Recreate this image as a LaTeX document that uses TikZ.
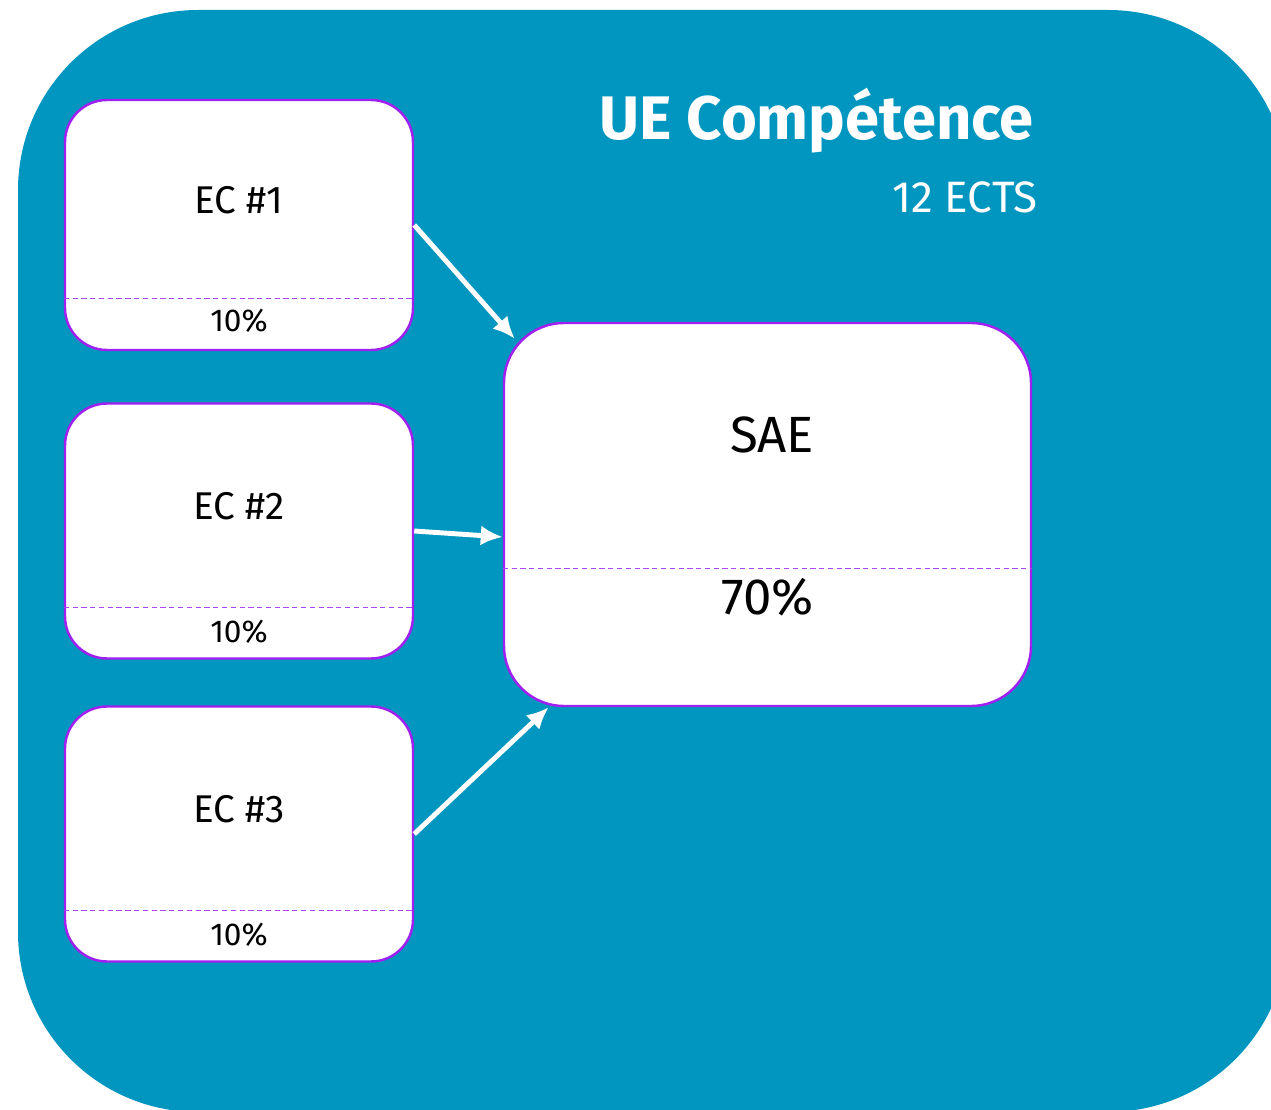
\documentclass[tikz,border=0pt]{standalone}
\usepackage{fontspec}
\setmainfont{Fira Sans}
\usetikzlibrary{arrows.meta}

\definecolor{UEBlue}{RGB}{0,150,192}
\definecolor{BoxPurple}{RGB}{160,32,240}
\definecolor{SepPurple}{RGB}{170,70,250}

\begin{document}
\begin{tikzpicture}[
  ecbox/.style={draw=BoxPurple,line width=1.4pt,fill=white,rounded corners=0.84cm,
    minimum width=6.96cm,minimum height=5.1cm,inner sep=0pt},
  saebox/.style={draw=BoxPurple,line width=1.4pt,fill=white,rounded corners=1.2cm,
    minimum width=10.54cm,minimum height=7.66cm,inner sep=0pt},
  sep/.style={SepPurple,line width=0.8pt,dash pattern=on 3pt off 2pt},
  flow/.style={white,line width=2.8pt,-{Latex[length=0.44cm,width=0.4cm]}},
  eclabel/.style={font=\fontsize{22}{26}\selectfont},
  pctlabel/.style={font=\fontsize{18}{22}\selectfont},
  saelabel/.style={font=\fontsize{29}{34}\selectfont}
]
\useasboundingbox (0,0) rectangle (25.42,-22.2);
\fill[UEBlue,rounded corners=3.6cm] (0.36,-0.2) rectangle (25.76,-22.24);

\node[white,anchor=base east,font=\bfseries\fontsize{35}{40}\selectfont] (title) at (20.8,-2.8) {UE Compétence};
\node[white,anchor=base east,font=\fontsize{25}{30}\selectfont] (ects) at (20.88,-4.26) {12 ECTS};

\node[ecbox,minimum height=5cm] (ec1) at (4.78,-4.5) {};
\node[eclabel] (ec1lbl) at ([yshift=0.5cm]ec1.center) {EC \#1};
\draw[sep] ([yshift=1.06cm]ec1.south west) -- ([yshift=1.06cm]ec1.south east);
\node[pctlabel] (ec1pct) at ([yshift=0.6cm]ec1.south) {10\%};

\node[ecbox] (ec2) at (4.78,-10.62) {};
\node[eclabel] (ec2lbl) at ([yshift=0.5cm]ec2.center) {EC \#2};
\draw[sep] ([yshift=1.04cm]ec2.south west) -- ([yshift=1.04cm]ec2.south east);
\node[pctlabel] (ec2pct) at ([yshift=0.56cm]ec2.south) {10\%};

\node[ecbox] (ec3) at (4.78,-16.68) {};
\node[eclabel] (ec3lbl) at ([yshift=0.5cm]ec3.center) {EC \#3};
\draw[sep] ([yshift=1.04cm]ec3.south west) -- ([yshift=1.04cm]ec3.south east);
\node[pctlabel] (ec3pct) at ([yshift=0.56cm]ec3.south) {10\%};

\node[saebox] (sae) at (15.35,-10.29) {};
\node[saelabel] (saelbl) at ([xshift=0.09cm,yshift=1.59cm]sae.center) {SAE};
\draw[sep] ([yshift=2.78cm]sae.south west) -- ([yshift=2.78cm]sae.south east);
\node[saelabel] (saepct) at ([yshift=2.2cm]sae.south) {70\%};

\draw[flow] (ec1.east) -- ([xshift=0.24cm,yshift=-0.34cm]sae.north west);
\draw[flow] (ec2.east) -- ([yshift=-0.45cm]sae.west);
\draw[flow] (ec3.east) -- ([xshift=0.92cm]sae.south west);
\end{tikzpicture}
\end{document}
